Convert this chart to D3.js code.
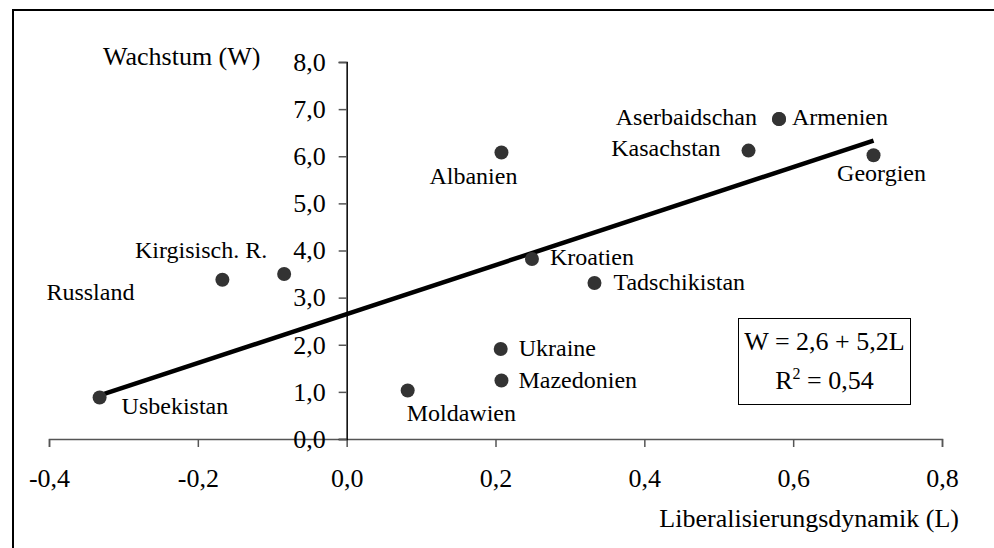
<!DOCTYPE html>
<html>
<head>
<meta charset="utf-8">
<script src="https://cdn.jsdelivr.net/npm/d3@7"></script>
<style>
  body { margin: 0; background: #fff; }
  text { font-family: "Liberation Serif", "Times New Roman", serif; fill: #000; }
</style>
</head>
<body>
<svg id="chart" width="994" height="548"></svg>
<script>
// countries, liberalisation dynamics (L) and growth (W)
const countries = ["Usbekistan", "Russland", "Kirgisisch. R.", "Albanien", "Kasachstan", "Aserbaidschan",
  "Armenien", "Georgien", "Kroatien", "Tadschikistan", "Ukraine", "Mazedonien", "Moldawien"];
const libValues = [-0.332, -0.167, -0.084, 0.208, 0.540, 0.581, 0.581, 0.708, 0.249, 0.333, 0.207, 0.208, 0.082];
const growthValues = [0.88, 3.38, 3.50, 6.08, 6.12, 6.79, 6.79, 6.02, 3.82, 3.31, 1.91, 1.24, 1.03];
// label placement: anchor and offset from the dot
const labelPos = [
  ["start", 22, 16], ["end", -88, 20], ["end", -17, -16], ["middle", -28, 32], ["end", -28, 5],
  ["end", -22, 6], ["start", 13, 6], ["middle", 8, 26], ["start", 18, 6], ["start", 19, 7],
  ["start", 18, 7], ["start", 17, 7], ["start", -1, 31]
];
const xTicks = [-0.4, -0.2, 0.0, 0.2, 0.4, 0.6, 0.8];
const yTicks = [0, 1, 2, 3, 4, 5, 6, 7, 8];
const intercept = 2.65, slope = 5.2;

const fmt = v => d3.format(".1f")(v).replace(".", ",").replace("−", "-");

const svg = d3.select("#chart");

const x = d3.scaleLinear().domain([-0.4, 0.8]).range([49, 942]);
const y = d3.scaleLinear().domain([0, 8]).range([439, 62]);

// outer frame (right and bottom edges run off the picture)
svg.append("rect")
  .attr("x", 13).attr("y", 10).attr("width", 1000).attr("height", 600)
  .attr("fill", "none").attr("stroke", "#000").attr("stroke-width", 2);

// x axis
const xAxis = svg.append("g")
  .attr("transform", `translate(0,${y(0)})`)
  .call(d3.axisBottom(x).tickValues(xTicks).tickSize(8).tickPadding(22).tickFormat(fmt));
xAxis.select(".domain").attr("stroke", "#555").attr("stroke-width", 1.5);
xAxis.selectAll(".tick line").attr("stroke", "#555").attr("stroke-width", 1.5);
xAxis.selectAll("text").style("font-size", "26px").style("font-family", "Liberation Serif");

// y axis
const yAxis = svg.append("g")
  .attr("transform", `translate(${x(0)},0)`)
  .call(d3.axisLeft(y).tickValues(yTicks).tickSize(8).tickPadding(13).tickFormat(fmt));
yAxis.select(".domain").attr("stroke", "#000").attr("stroke-width", 1.5);
yAxis.selectAll(".tick line").attr("stroke", "#555").attr("stroke-width", 1.5);
yAxis.selectAll("text").style("font-size", "26px").style("font-family", "Liberation Serif");

// axis titles
svg.append("text").attr("x", 103).attr("y", 65)
  .style("font-size", "26px").text("Wachstum (W)");
svg.append("text").attr("x", 959).attr("y", 527).attr("text-anchor", "end")
  .style("font-size", "26px").text("Liberalisierungsdynamik (L)");

// regression line
const xMin = d3.min(libValues), xMax = d3.max(libValues);
svg.append("line")
  .attr("x1", x(xMin)).attr("y1", y(intercept + slope * xMin))
  .attr("x2", x(xMax)).attr("y2", y(intercept + slope * xMax))
  .attr("stroke", "#000").attr("stroke-width", 4.5);

// dots
svg.selectAll("circle.pt")
  .data(countries)
  .join("circle")
  .attr("class", "pt")
  .attr("cx", (d, i) => x(libValues[i]))
  .attr("cy", (d, i) => y(growthValues[i]))
  .attr("r", 7)
  .attr("fill", "#333");

// labels
svg.selectAll("text.lbl")
  .data(countries)
  .join("text")
  .attr("class", "lbl")
  .attr("x", (d, i) => x(libValues[i]) + labelPos[i][1])
  .attr("y", (d, i) => y(growthValues[i]) + labelPos[i][2])
  .attr("text-anchor", (d, i) => labelPos[i][0])
  .style("font-size", "24px")
  .text(d => d);

// equation box
svg.append("rect")
  .attr("x", 738.5).attr("y", 318.5).attr("width", 172).attr("height", 86)
  .attr("fill", "#fff").attr("stroke", "#000").attr("stroke-width", 1);
svg.append("text").attr("x", 824.5).attr("y", 350).attr("text-anchor", "middle")
  .style("font-size", "26px").text("W = 2,6 + 5,2L");
const r2 = svg.append("text").attr("x", 824.5).attr("y", 389).attr("text-anchor", "middle")
  .style("font-size", "26px");
r2.append("tspan").text("R");
r2.append("tspan").attr("dy", -10).style("font-size", "16px").text("2");
r2.append("tspan").attr("dy", 10).text(" = 0,54");
</script>
</body>
</html>
